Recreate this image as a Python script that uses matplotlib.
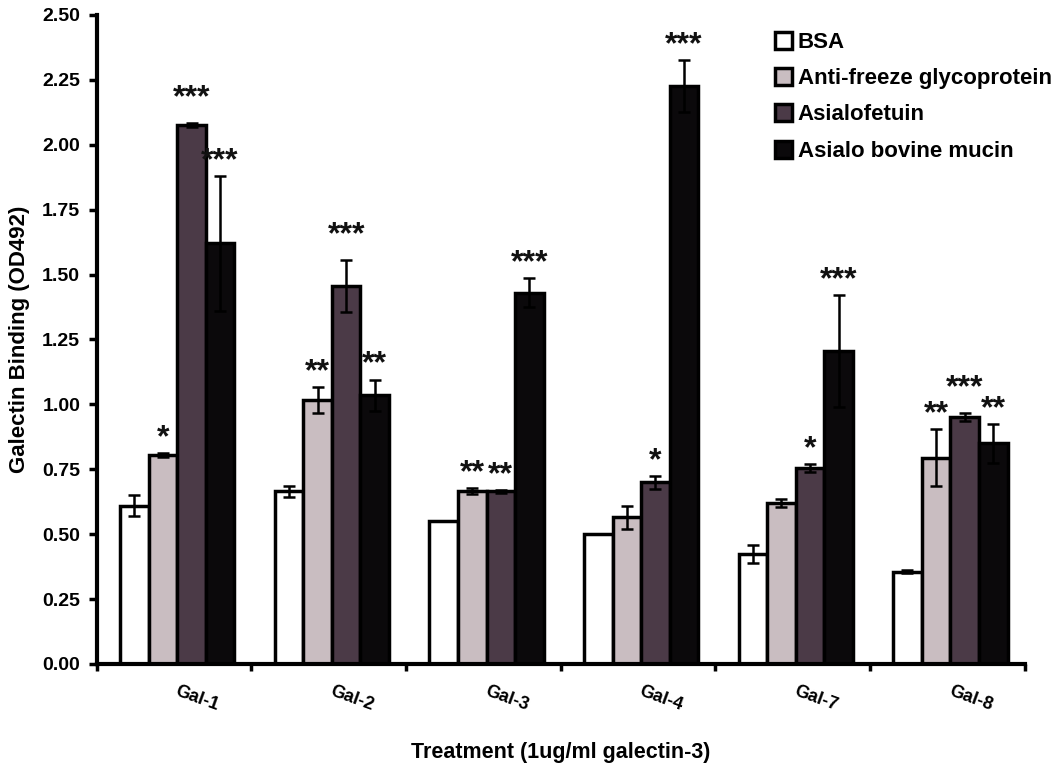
import numpy as np
import matplotlib as mpl
mpl.use("Agg")
import matplotlib.pyplot as plt

plt.rcParams["font.family"] = ["Liberation Sans", "DejaVu Sans"]
plt.rcParams["font.weight"] = "bold"

# --- data ---------------------------------------------------------------------
groups = ["Gal-1", "Gal-2", "Gal-3", "Gal-4", "Gal-7", "Gal-8"]
series = ["BSA", "Anti-freeze glycoprotein", "Asialofetuin", "Asialo bovine mucin"]

bsa = [0.61, 0.665, 0.55, 0.50, 0.425, 0.355]
afgp = [0.805, 1.015, 0.665, 0.565, 0.62, 0.795]
asf = [2.075, 1.455, 0.665, 0.70, 0.755, 0.95]
abm = [1.62, 1.035, 1.43, 2.225, 1.205, 0.85]

bsa_err = [0.04, 0.02, 0.0, 0.0, 0.035, 0.005]
afgp_err = [0.008, 0.05, 0.012, 0.045, 0.015, 0.11]
asf_err = [0.008, 0.10, 0.005, 0.025, 0.015, 0.015]
abm_err = [0.26, 0.06, 0.055, 0.10, 0.215, 0.075]

# significance marks per series (one per group, "" = none)
bsa_sig = ["", "", "", "", "", ""]
afgp_sig = ["*", "**", "**", "", "", "**"]
asf_sig = ["***", "***", "**", "*", "*", "***"]
abm_sig = ["***", "**", "***", "***", "***", "**"]

colors = ["#ffffff", "#c9bdc1", "#4b3a47", "#0b090b"]

values = [bsa, afgp, asf, abm]
errors = [bsa_err, afgp_err, asf_err, abm_err]
sigs = [bsa_sig, afgp_sig, asf_sig, abm_sig]

# --- figure -------------------------------------------------------------------
fig = plt.figure(figsize=(10.64, 7.70), dpi=100)
ax = fig.add_axes([0.091, 0.1377, 0.872, 0.843])

x = np.arange(len(groups))
width = 0.185
offsets = (np.arange(4) - 1.5) * width + 0.02

for si, (vals, errs, sig, col, off, name) in enumerate(
        zip(values, errors, sigs, colors, offsets, series)):
    ax.bar(x + off, vals, width=width, color=col, edgecolor="black",
           linewidth=2.5, label=name, zorder=2)
    ax.errorbar(x + off, vals, yerr=errs, fmt="none", ecolor="black",
                elinewidth=1.8, capsize=4, capthick=1.8, zorder=3)
    for gi, (xi, v, e, s) in enumerate(zip(x + off, vals, errs, sig)):
        if not s:
            continue
        # lift a mark when both neighbours in the group carry marks too
        crowded = (0 < si < 3 and sigs[si - 1][gi] and sigs[si + 1][gi]
                   and len(s) == 3)
        dy = 12 if crowded else 5
        ax.annotate(s, xy=(xi, v + e), xytext=(0, dy),
                    textcoords="offset points", ha="center",
                    va="baseline", fontsize=23, fontweight="bold",
                    color="#111111")

ax.set_xlim(-0.5, len(groups) - 0.5)
ax.set_ylim(0, 2.5)
yt = np.arange(0, 2.51, 0.25)
ax.set_yticks(yt)
ax.set_yticklabels(["%.2f" % v for v in yt], fontsize=14, fontweight="bold")

# boundary ticks between groups; group names sit just right of the centres
ax.set_xticks(np.arange(-0.5, len(groups), 1.0))
ax.set_xticklabels([])
ax.set_xticks(x + 0.15, minor=True)
ax.set_xticklabels(groups, minor=True, rotation=-20, fontsize=13,
                   fontweight="bold", rotation_mode="anchor", ha="center",
                   va="center")
ax.tick_params(axis="x", which="minor", length=0, pad=25)
ax.tick_params(axis="x", which="major", length=5, width=2.5, direction="out")
ax.tick_params(axis="y", length=6, width=2.5, direction="out", pad=6)

for side in ["top", "right"]:
    ax.spines[side].set_visible(False)
for side in ["left", "bottom"]:
    ax.spines[side].set_linewidth(3)

ax.set_ylabel("Galectin Binding (OD492)", fontsize=16, fontweight="bold")
ax.yaxis.set_label_coords(-0.072, 0.5)
ax.set_xlabel("Treatment (1ug/ml galectin-3)", fontsize=15.5,
              fontweight="bold")
ax.xaxis.set_label_coords(0.5, -0.12)

ax.legend(loc="upper left", bbox_to_anchor=(0.728, 0.959),
          bbox_transform=fig.transFigure, frameon=False, fontsize=16,
          handlelength=0.8, handleheight=0.8, handletextpad=0.25,
          labelspacing=0.68, borderaxespad=0, borderpad=0)

fig.savefig("out.png", dpi=100, facecolor="white")
